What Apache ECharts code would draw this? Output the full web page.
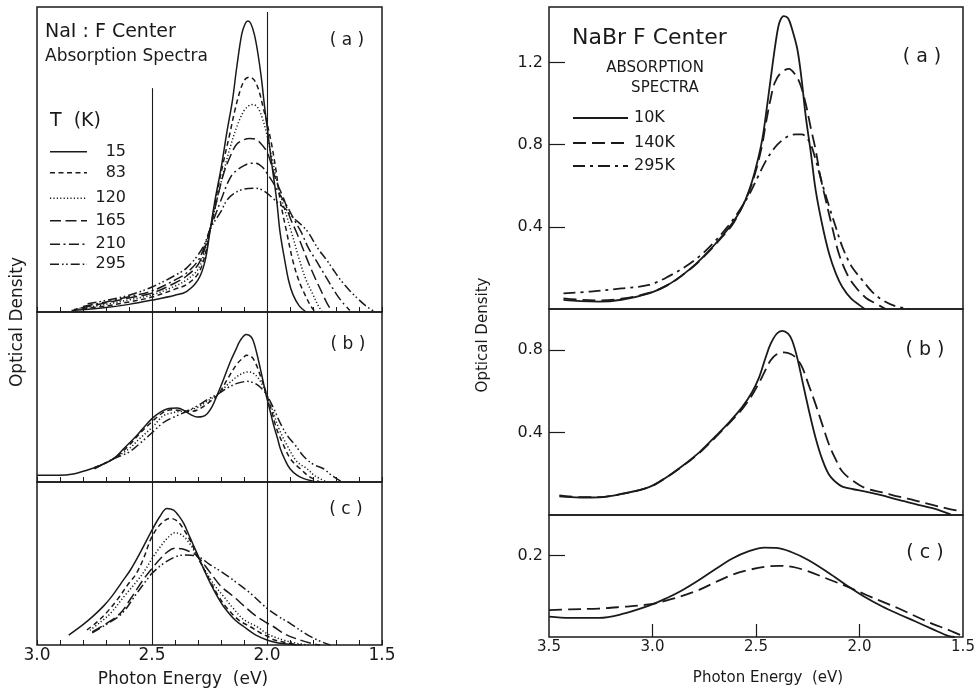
<!DOCTYPE html>
<html><head><meta charset="utf-8">
<script src="https://cdn.jsdelivr.net/npm/echarts@6/dist/echarts.min.js"></script>
<style>html,body{margin:0;padding:0;background:#fff}#c{width:979px;height:696px}</style>
</head><body><div id="c"></div>
<script>
// ---------- Tick labels / reference energies ----------
const leftXLabels = [3.0, 2.5, 2.0, 1.5];
const rightXLabels = [3.5, 3.0, 2.5, 2.0, 1.5];
const rightXTicks = [3.0, 2.5, 2.0];
const rightYTicksA = [0.4, 0.8, 1.2];
const rightYTicksB = [0.4, 0.8];
const rightYTicksC = [0.2];
const refEnergies = [2.5, 2.0];
const leftTemps = ['15', '83', '120', '165', '210', '295'];
const rightTemps = ['10K', '140K', '295K'];

// ---------- NaI panel (a) : [photon energy eV, optical density (arb.)] ----------
const naiA15 = [[2.85,0.5],[2.7,1.5],[2.6,2.5],[2.5,3.9],[2.4,5.5],[2.35,6.7],[2.3,10.5],[2.27,16.5],[2.246,27.4],[2.226,36.7],[2.2,47],[2.175,58.7],[2.15,69.5],[2.132,80],[2.11,91],[2.095,94.5],[2.083,95.4],[2.07,94.5],[2.055,91],[2.04,85],[2.025,77],[2.01,67],[2.0,61],[1.98,49],[1.958,36.7],[1.943,26],[1.922,16.6],[1.905,10],[1.887,5.7],[1.86,2],[1.83,0]];
const naiA83 = [[2.84,0.8],[2.7,2],[2.6,3.3],[2.5,4.9],[2.4,7.5],[2.35,9],[2.3,12.5],[2.27,18.5],[2.246,27.4],[2.22,38],[2.19,49],[2.161,58.7],[2.14,66],[2.115,73],[2.095,76.3],[2.074,77],[2.055,76],[2.035,72.5],[2.015,66.5],[2.0,62],[1.98,55],[1.96,46],[1.943,36.7],[1.914,26],[1.887,16.6],[1.86,10],[1.835,5.7],[1.81,2],[1.79,0]];
const naiA120 = [[2.83,1],[2.7,2.5],[2.6,4],[2.5,5.6],[2.4,8.5],[2.35,10.5],[2.3,14],[2.27,20],[2.246,27.4],[2.22,36],[2.19,45.5],[2.16,54],[2.13,61],[2.1,66],[2.075,67.8],[2.06,68],[2.04,67],[2.02,63.5],[2.0,58],[1.98,51],[1.96,44],[1.935,36.7],[1.893,26],[1.857,16.6],[1.83,10.5],[1.8,5.7],[1.78,2.5],[1.76,0]];
const naiA165 = [[2.81,1.3],[2.7,3],[2.6,4.6],[2.5,6.2],[2.4,9.5],[2.35,11.8],[2.3,15.5],[2.27,21],[2.246,27.4],[2.22,36],[2.19,45],[2.16,51],[2.132,55],[2.1,56.5],[2.075,56.9],[2.052,56.7],[2.03,55.5],[2.0,52.5],[1.98,48],[1.96,43],[1.925,36.7],[1.9,31],[1.871,26],[1.85,22],[1.822,16.6],[1.79,11],[1.757,5.7],[1.74,3],[1.72,0.5]];
const naiA210 = [[2.8,1.8],[2.7,3.3],[2.6,5],[2.5,6.9],[2.4,10.5],[2.35,12.8],[2.3,16.8],[2.27,22],[2.246,27.4],[2.2,36.7],[2.17,42.5],[2.146,45.5],[2.1,48],[2.07,48.8],[2.05,48.8],[2.02,47.5],[2.0,45.5],[1.97,42],[1.94,38],[1.915,35],[1.88,30],[1.85,26],[1.82,21],[1.784,16.6],[1.74,11],[1.697,5.7],[1.67,3],[1.64,0.5]];
const naiA295 = [[2.78,2.7],[2.7,3.8],[2.6,5.5],[2.5,8.2],[2.4,12],[2.35,14.4],[2.3,18.7],[2.27,22.5],[2.246,27.4],[2.2,33],[2.174,36.7],[2.14,39],[2.1,40.3],[2.06,40.6],[2.03,40.3],[2.0,39],[1.97,37],[1.94,35],[1.915,33.5],[1.887,31],[1.85,28.5],[1.82,26],[1.78,21],[1.74,17],[1.713,14],[1.68,10.5],[1.64,7],[1.6,4],[1.57,2],[1.53,0]];

// ---------- NaI panel (b) ----------
const naiB15 = [[3.0,3.9],[2.9,3.9],[2.85,4.5],[2.783,6.9],[2.72,10],[2.667,13.7],[2.62,20],[2.565,27.5],[2.53,33],[2.5,37.3],[2.47,40.5],[2.435,43],[2.39,43.5],[2.355,41.6],[2.33,39.5],[2.304,38.2],[2.28,38.5],[2.26,40.2],[2.24,44],[2.217,51],[2.19,60],[2.16,70.6],[2.135,78],[2.116,83.3],[2.09,86.7],[2.07,85.5],[2.058,82.4],[2.045,76],[2.029,66.7],[2.015,58],[2.0,49],[1.985,41],[1.971,33.3],[1.955,26],[1.942,19.6],[1.92,12.5],[1.9,7.8],[1.87,4],[1.84,2],[1.8,0.5],[1.78,0]];
const naiB83 = [[2.75,8.5],[2.667,13.7],[2.6,21.6],[2.55,29],[2.5,35.5],[2.45,41],[2.41,42.5],[2.37,42],[2.33,41.5],[2.3,42.5],[2.26,46],[2.21,52],[2.17,61],[2.13,69.5],[2.1,73.5],[2.09,74.5],[2.07,74],[2.05,70],[2.03,63],[2.0,51],[1.98,42],[1.96,32],[1.928,21.6],[1.9,14],[1.87,9.5],[1.855,7.8],[1.82,3.5],[1.77,0]];
const naiB120 = [[2.75,8],[2.667,13.7],[2.6,19.6],[2.55,26],[2.5,32],[2.45,39],[2.4,41],[2.35,42],[2.3,44],[2.26,47.5],[2.21,52],[2.17,57.5],[2.13,62],[2.1,64.3],[2.08,64.7],[2.06,64],[2.04,61.5],[2.02,57],[2.0,51],[1.975,42],[1.95,32],[1.913,21.6],[1.87,12],[1.826,7.8],[1.79,3.5],[1.74,0]];
const naiB295 = [[2.75,7.8],[2.667,13.7],[2.6,17.6],[2.55,23],[2.5,29],[2.45,35],[2.4,38.5],[2.35,41.5],[2.3,45],[2.26,48.5],[2.21,52],[2.17,55.5],[2.13,58],[2.1,59],[2.085,59.2],[2.06,58.5],[2.04,57],[2.02,54.5],[2.0,51],[1.97,43],[1.94,34],[1.91,27],[1.877,21.6],[1.84,15],[1.8,10.5],[1.754,7.8],[1.72,4],[1.68,0.5]];

// ---------- NaI panel (c) ----------
const naiC15 = [[2.862,6.1],[2.8,12.5],[2.75,18.5],[2.71,24],[2.674,30],[2.634,38],[2.594,46],[2.55,57],[2.5,70.5],[2.465,79],[2.435,83.8],[2.406,82.8],[2.385,79.5],[2.362,74.6],[2.335,66],[2.304,56.2],[2.275,46.5],[2.246,37.8],[2.215,29.5],[2.188,23.5],[2.14,15.5],[2.1,11.2],[2.05,6.2],[2.0,3.1],[1.95,1.2],[1.9,0.4],[1.87,0]];
const naiC83 = [[2.783,9.2],[2.74,14],[2.7,19.5],[2.65,28],[2.6,38],[2.572,43],[2.54,52],[2.5,66.5],[2.46,74.5],[2.42,77.7],[2.39,76],[2.36,70.5],[2.33,63],[2.304,54.6],[2.27,45.5],[2.25,40],[2.21,29.7],[2.17,22],[2.12,15],[2.072,11.2],[2.03,7.5],[2.0,5.5],[1.971,3.2],[1.93,1.8],[1.9,1],[1.85,0]];
const naiC120 = [[2.77,9],[2.72,14.5],[2.68,19.5],[2.62,30],[2.558,40.5],[2.53,46],[2.5,53],[2.46,61],[2.43,66],[2.4,68.9],[2.37,67.5],[2.34,63],[2.304,54.6],[2.27,46],[2.23,37],[2.188,29.7],[2.15,23],[2.1,15.5],[2.043,11.2],[2.0,7],[1.96,4.5],[1.928,3],[1.87,1],[1.82,0]];
const naiC165 = [[2.76,8],[2.7,13],[2.638,19.4],[2.59,29],[2.536,40.5],[2.5,47],[2.46,53.5],[2.43,57.5],[2.4,59.3],[2.37,59],[2.34,57.5],[2.304,54.6],[2.25,45],[2.2,36],[2.145,29.7],[2.1,24],[2.05,18],[2.0,13.5],[1.971,11.2],[1.92,6.5],[1.855,3],[1.8,0.8],[1.77,0]];
const naiC295 = [[2.76,7.5],[2.7,12.5],[2.63,19.4],[2.575,30],[2.52,40.5],[2.5,44],[2.45,50],[2.4,54],[2.36,55.2],[2.33,55],[2.304,54.6],[2.25,49.5],[2.188,44],[2.13,38],[2.072,31.7],[2.0,22.5],[1.95,17.5],[1.9,13.3],[1.85,8.5],[1.81,5.1],[1.76,1.8],[1.725,0]];

// ---------- NaBr panel (a) : [eV, optical density] ----------
const nabrA10 = [[3.43,0.044],[3.35,0.038],[3.26,0.036],[3.15,0.045],[3.017,0.076],[2.93,0.115],[2.856,0.165],[2.79,0.22],[2.727,0.283],[2.67,0.348],[2.614,0.418],[2.57,0.49],[2.534,0.575],[2.5,0.69],[2.47,0.824],[2.445,1.0],[2.421,1.182],[2.4,1.33],[2.385,1.4],[2.365,1.426],[2.345,1.415],[2.325,1.36],[2.3,1.263],[2.28,1.12],[2.26,0.94],[2.235,0.76],[2.212,0.58],[2.18,0.41],[2.147,0.27],[2.115,0.175],[2.083,0.107],[2.04,0.05],[2.0,0.019],[1.975,0]];
const nabrA140 = [[3.43,0.052],[3.35,0.045],[3.26,0.042],[3.15,0.05],[3.017,0.078],[2.93,0.115],[2.856,0.164],[2.79,0.218],[2.727,0.28],[2.67,0.344],[2.614,0.41],[2.566,0.5],[2.534,0.57],[2.5,0.675],[2.47,0.8],[2.453,0.9],[2.43,1.02],[2.41,1.1],[2.38,1.15],[2.341,1.169],[2.31,1.14],[2.285,1.09],[2.26,1.0],[2.235,0.88],[2.212,0.775],[2.19,0.65],[2.163,0.53],[2.13,0.39],[2.1,0.27],[2.06,0.17],[2.019,0.107],[1.97,0.055],[1.922,0.027],[1.874,0]];
const nabrA295 = [[3.43,0.076],[3.3,0.085],[3.15,0.1],[3.017,0.117],[2.92,0.16],[2.824,0.218],[2.75,0.277],[2.695,0.333],[2.65,0.385],[2.614,0.43],[2.57,0.495],[2.534,0.555],[2.49,0.645],[2.453,0.72],[2.41,0.785],[2.373,0.822],[2.34,0.843],[2.308,0.85],[2.28,0.85],[2.26,0.84],[2.235,0.8],[2.212,0.727],[2.18,0.61],[2.147,0.5],[2.115,0.4],[2.083,0.303],[2.04,0.21],[1.986,0.14],[1.94,0.085],[1.89,0.044],[1.83,0.015],[1.76,0]];

// ---------- NaBr panel (b) ----------
const nabrB10 = [[3.45,0.09],[3.35,0.085],[3.258,0.086],[3.15,0.102],[3.017,0.135],[2.93,0.185],[2.856,0.238],[2.77,0.308],[2.695,0.383],[2.63,0.45],[2.566,0.525],[2.52,0.595],[2.486,0.666],[2.455,0.76],[2.43,0.829],[2.4,0.88],[2.373,0.894],[2.345,0.88],[2.325,0.846],[2.3,0.76],[2.276,0.65],[2.245,0.51],[2.212,0.374],[2.18,0.27],[2.147,0.195],[2.115,0.16],[2.083,0.138],[2.03,0.125],[1.97,0.114],[1.89,0.095],[1.81,0.073],[1.73,0.053],[1.648,0.033],[1.6,0.018],[1.56,0.003]];
const nabrB140 = [[3.45,0.095],[3.35,0.087],[3.258,0.087],[3.15,0.102],[3.017,0.135],[2.93,0.184],[2.856,0.236],[2.77,0.304],[2.695,0.378],[2.63,0.445],[2.566,0.515],[2.52,0.58],[2.486,0.64],[2.461,0.69],[2.43,0.75],[2.4,0.78],[2.365,0.789],[2.33,0.78],[2.3,0.755],[2.276,0.715],[2.245,0.63],[2.212,0.537],[2.18,0.44],[2.147,0.341],[2.115,0.27],[2.083,0.211],[2.03,0.165],[1.97,0.13],[1.89,0.11],[1.81,0.089],[1.73,0.07],[1.648,0.049],[1.57,0.03],[1.5,0.016]];

// ---------- NaBr panel (c) ----------
const nabrC10 = [[3.5,0.05],[3.4,0.047],[3.258,0.047],[3.15,0.056],[3.017,0.077],[2.93,0.096],[2.856,0.115],[2.775,0.14],[2.695,0.167],[2.614,0.193],[2.534,0.211],[2.46,0.22],[2.4,0.219],[2.33,0.209],[2.25,0.19],[2.15,0.158],[2.05,0.123],[1.97,0.097],[1.89,0.075],[1.81,0.056],[1.729,0.038],[1.65,0.02],[1.568,0.002],[1.54,0]];
const nabrC140 = [[3.5,0.066],[3.4,0.068],[3.258,0.07],[3.15,0.074],[3.017,0.08],[2.93,0.09],[2.856,0.101],[2.775,0.116],[2.695,0.135],[2.614,0.153],[2.534,0.165],[2.453,0.173],[2.39,0.175],[2.33,0.173],[2.25,0.162],[2.15,0.142],[2.05,0.122],[1.97,0.104],[1.89,0.087],[1.81,0.07],[1.729,0.051],[1.65,0.033],[1.568,0.017],[1.5,0.002]];

// ---------- styles ----------
const INK = '#1a1a1a';
const FONT = 'DejaVu Sans';
const leftDash = {
  '15': 'solid', '83': [5, 3.5], '120': [1.2, 2.2], '165': [11, 4.5],
  '210': [10, 3.5, 2, 3.5], '295': [9, 3, 1.6, 2.5, 1.6, 3]
};
const rightDash = { '10K': 'solid', '140K': [13, 6], '295K': [12, 5, 3, 5] };

function line(name, data, gi, dash, w) {
  return {
    type: 'line', name: name, data: data, xAxisIndex: gi, yAxisIndex: gi,
    symbol: 'none', smooth: 0.35, silent: true, animation: false,
    itemStyle: { color: INK },
    lineStyle: { color: INK, width: w, type: dash, cap: 'butt', join: 'round' }
  };
}

const series = [];
[['15', naiA15], ['83', naiA83], ['120', naiA120], ['165', naiA165], ['210', naiA210], ['295', naiA295]]
  .forEach(([n, d]) => series.push(line(n, d, 0, leftDash[n], 1.5)));
[['15', naiB15], ['83', naiB83], ['120', naiB120], ['295', naiB295]]
  .forEach(([n, d]) => series.push(line(n, d, 1, leftDash[n], 1.5)));
[['15', naiC15], ['83', naiC83], ['120', naiC120], ['165', naiC165], ['295', naiC295]]
  .forEach(([n, d]) => series.push(line(n, d, 2, leftDash[n], 1.5)));
[['10K', nabrA10], ['140K', nabrA140], ['295K', nabrA295]]
  .forEach(([n, d]) => series.push(line(n, d, 3, rightDash[n], 1.8)));
[['10K', nabrB10], ['140K', nabrB140]]
  .forEach(([n, d]) => series.push(line(n, d, 4, rightDash[n], 1.8)));
[['10K', nabrC10], ['140K', nabrC140]]
  .forEach(([n, d]) => series.push(line(n, d, 5, rightDash[n], 1.8)));

// vertical reference lines in the NaI panels
const refLine = { symbol: 'none', silent: true, label: { show: false },
  lineStyle: { type: 'solid', color: INK, width: 1.1 } };
series[0].markLine = Object.assign({}, refLine, { data: [
  [{ coord: [refEnergies[0], 0] }, { coord: [refEnergies[0], 73.4] }],
  [{ coord: [refEnergies[1], 0] }, { coord: [refEnergies[1], 98.4] }]
]});
series[6].markLine = Object.assign({}, refLine, { data: refEnergies.map(e => ({ xAxis: e })) });
series[10].markLine = Object.assign({}, refLine, { data: refEnergies.map(e => ({ xAxis: e })) });

const gridBox = { show: true, borderColor: INK, borderWidth: 1.5, backgroundColor: 'transparent', containLabel: false };
const grids = [
  { left: 37, top: 7, width: 345, height: 305 },
  { left: 37, top: 312, width: 345, height: 170 },
  { left: 37, top: 482, width: 345, height: 163 },
  { left: 549, top: 7, width: 414, height: 302 },
  { left: 549, top: 309, width: 414, height: 206 },
  { left: 549, top: 515, width: 414, height: 122 }
].map(g => Object.assign({}, gridBox, g));

function leftX(gi, labels) {
  return {
    type: 'value', gridIndex: gi, min: 1.5, max: 3.0, interval: 0.1, inverse: true,
    axisLine: { show: false }, splitLine: { show: false },
    axisTick: { show: true, inside: true, length: 5, lineStyle: { color: INK, width: 1 } },
    axisLabel: labels ? { show: true, customValues: leftXLabels, formatter: v => v.toFixed(1),
      color: INK, fontSize: 17, fontFamily: FONT, margin: 2 } : { show: false }
  };
}
function rightX(gi, labels) {
  return {
    type: 'value', gridIndex: gi, min: 1.5, max: 3.5, inverse: true,
    axisLine: { show: false }, splitLine: { show: false },
    axisTick: labels ? { show: true, inside: true, length: 13, customValues: rightXTicks,
      lineStyle: { color: INK, width: 1.2 } } : { show: false },
    axisLabel: labels ? { show: true, customValues: rightXLabels, formatter: v => v.toFixed(1),
      color: INK, fontSize: 15, fontFamily: FONT, margin: 3 } : { show: false }
  };
}
function leftY(gi) {
  return { type: 'value', gridIndex: gi, min: 0, max: 100,
    axisLine: { show: false }, axisTick: { show: false }, axisLabel: { show: false }, splitLine: { show: false } };
}
function rightY(gi, max, ticks) {
  return { type: 'value', gridIndex: gi, min: 0, max: max,
    axisLine: { show: false }, splitLine: { show: false },
    axisTick: { show: true, inside: true, length: 16, customValues: ticks, lineStyle: { color: INK, width: 1.2 } },
    axisLabel: { show: true, customValues: ticks, formatter: v => v.toFixed(1),
      color: INK, fontSize: 16, fontFamily: FONT, margin: 6 } };
}

function txt(text, x, y, size, align, rot) {
  return { type: 'text', x: x, y: y, rotation: rot || 0, silent: true,
    style: { text: text, fill: INK, fontSize: size, fontFamily: FONT,
      textAlign: align || 'left', textVerticalAlign: 'middle', align: align || 'left', verticalAlign: 'middle' } };
}
function sample(x1, x2, y, dash, w) {
  return { type: 'line', silent: true,
    shape: { x1: x1, y1: y, x2: x2, y2: y },
    style: { stroke: INK, lineWidth: w, lineDash: dash === 'solid' ? null : dash } };
}

// legend keys (drawn as text + line samples)
const legendRowsLeft = [151.7, 172.7, 198.3, 220.7, 244.3, 264.3];
const legendRowsRight = [118, 143, 166];
const legendGraphics = [];
leftTemps.forEach((t, i) => {
  legendGraphics.push(sample(50, 87, legendRowsLeft[i], leftDash[t], 1.5));
  legendGraphics.push(txt(t, 126, legendRowsLeft[i], 16, 'right'));
});
rightTemps.forEach((t, i) => {
  legendGraphics.push(sample(573, 628, legendRowsRight[i], rightDash[t], 1.8));
  legendGraphics.push(txt(t, 634, legendRowsRight[i], 16, 'left'));
});

const option = {
  backgroundColor: '#fff',
  animation: false,
  grid: grids,
  xAxis: [leftX(0, false), leftX(1, false), leftX(2, true), rightX(3, false), rightX(4, false), rightX(5, true)],
  yAxis: [leftY(0), leftY(1), leftY(2), rightY(3, 1.47, rightYTicksA), rightY(4, 1.0, rightYTicksB), rightY(5, 0.3, rightYTicksC)],
  graphic: [
    txt('NaI : F Center', 45, 32, 19),
    txt('Absorption Spectra', 45, 57, 17),
    txt('T  (K)', 50, 121, 19),
    txt('( a )', 347, 41, 17, 'center'),
    txt('( b )', 348, 345, 17, 'center'),
    txt('( c )', 346, 510, 17, 'center'),
    txt('Optical Density', 18, 322, 17, 'center', Math.PI / 2),
    txt('Photon Energy  (eV)', 183, 680, 17, 'center'),
    txt('NaBr F Center', 572, 38, 22),
    txt('ABSORPTION', 655, 68, 15, 'center'),
    txt('SPECTRA', 665, 88, 15, 'center'),
    txt('( a )', 922, 57, 19, 'center'),
    txt('( b )', 925, 350, 19, 'center'),
    txt('( c )', 925, 553, 19, 'center'),
    txt('Optical Density', 483, 335, 15, 'center', Math.PI / 2),
    txt('Photon Energy  (eV)', 768, 678, 15, 'center')
  ].concat(legendGraphics),
  series: series
};

const chart = echarts.init(document.getElementById('c'), null, { renderer: 'canvas' });
chart.setOption(option);
</script></body></html>
